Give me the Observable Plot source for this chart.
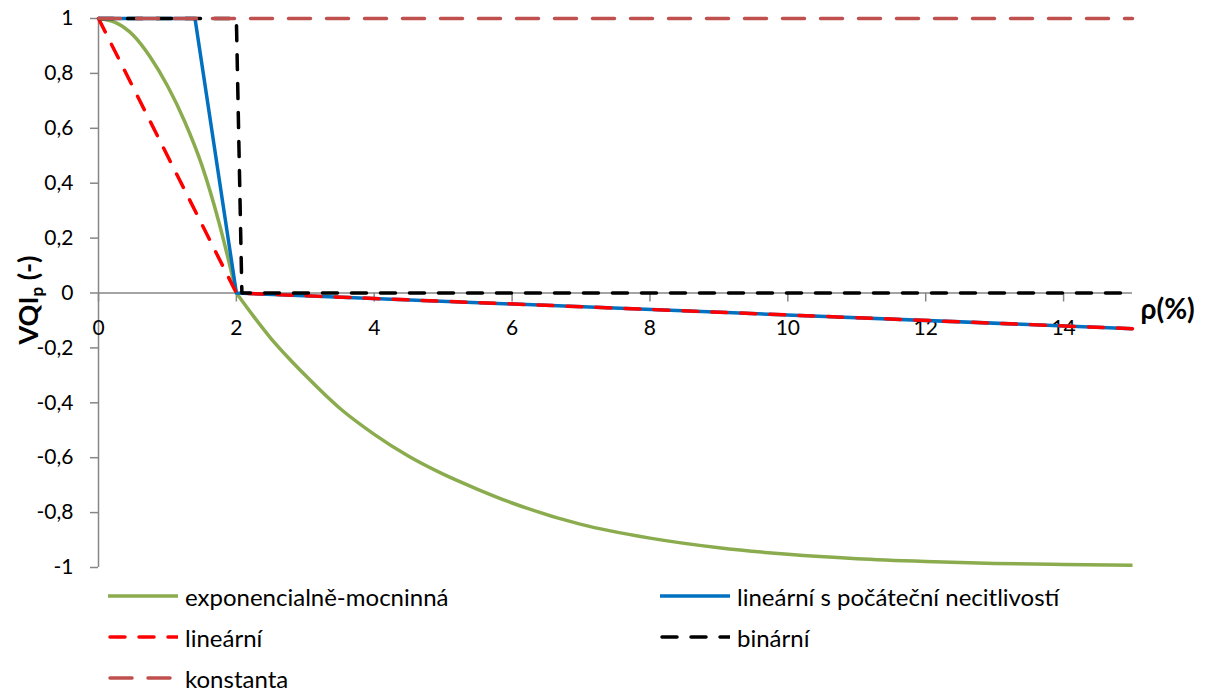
<!DOCTYPE html>
<html><head><meta charset="utf-8">
<script src="https://cdn.jsdelivr.net/npm/d3@7"></script>
<script src="https://cdn.jsdelivr.net/npm/@observablehq/plot@0.6"></script>
<style>
body{margin:0;background:#fff;font-family:Lato, "Open Sans", sans-serif;}
#wrap{position:relative;width:1212px;height:693px;overflow:hidden;}
.leg{position:absolute;display:flex;align-items:center;font-size:24px;color:#000;white-space:nowrap;}
.leg svg{margin-right:7px;}
.ytitle{position:absolute;left:27px;top:300px;transform:translate(-50%,-50%) rotate(-90deg);font-weight:bold;font-size:27px;white-space:nowrap;color:#000;}
.ytitle sub{font-size:17px;vertical-align:-5px;line-height:0;}
</style></head><body><div id="wrap"></div>
<script>
// ---- data ----
const xTicks = [0, 2, 4, 6, 8, 10, 12, 14];
const yTicks = [1, 0.8, 0.6, 0.4, 0.2, 0, -0.2, -0.4, -0.6, -0.8, -1];
const xTitle = "ρ(%)";
const yTitle = ["VQI", "p", " (-)"];

const seriesNames = ["exponencialně-mocninná", "lineární s počáteční necitlivostí", "lineární", "binární", "konstanta"];
const seriesColors = ["#8BAC4E", "#0070C0", "#FF0000", "#000000", "#C0504D"];
const seriesDash = [null, null, "15,14", "15,14", "22,16"];

const expX = [0, 0.25, 0.5, 0.75, 1.0, 1.25, 1.5, 1.75, 2.0, 2.25, 2.5, 2.75, 3, 3.5, 4, 4.5, 5, 5.5, 6, 7, 8, 9, 10, 11, 12, 13, 14, 15];
const expY = [1, 0.985, 0.94, 0.86, 0.755, 0.625, 0.465, 0.255, 0.0, -0.085, -0.165, -0.235, -0.30, -0.42, -0.515, -0.595, -0.66, -0.715, -0.765, -0.843, -0.893, -0.928, -0.952, -0.968, -0.978, -0.985, -0.989, -0.992];
const expBreak = 2; // the curve has a corner at ρ = 2
const linInsX = [0, 1.4, 2, 15];
const linInsY = [1, 1, 0, -0.13];
const linX = [0, 2, 15];
const linY = [1, 0, -0.13];
const binX = [0, 2, 2.08, 15];
const binY = [1, 1, 0, 0];
const constX = [0, 15];
const constY = [1, 1];

const seriesXs = [expX, linInsX, linX, binX, constX];
const seriesYs = [expY, linInsY, linY, binY, constY];

// ---- chart ----
const axisGray = "#868686";
const fmt = d => String(Math.round(d * 10) / 10).replace(".", ",");

const lineMarks = [];
seriesNames.forEach((name, s) => {
  const data = seriesXs[s].map((x, i) => ({x, y: seriesYs[s][i]}));
  const opts = {
    x: "x", y: "y",
    stroke: seriesColors[s],
    strokeWidth: 3.5,
    strokeDasharray: seriesDash[s] || undefined,
    strokeLinecap: seriesDash[s] ? "round" : "butt",
    strokeLinejoin: "round"
  };
  if (s === 0) {
    lineMarks.push(Plot.line(data.filter(d => d.x <= expBreak), {...opts, curve: "monotone-x"}));
    lineMarks.push(Plot.line(data.filter(d => d.x >= expBreak), {...opts, curve: "monotone-x"}));
  } else {
    lineMarks.push(Plot.line(data, {...opts, curve: "linear"}));
  }
});

const chart = Plot.plot({
  width: 1212,
  height: 580,
  marginLeft: 98,
  marginRight: 80,
  marginTop: 18,
  marginBottom: 13,
  style: {fontFamily: "Lato, 'Open Sans', sans-serif", fontSize: "21px", color: "#000", background: "#fff"},
  x: {domain: [0, 15], axis: null},
  y: {domain: [-1, 1]},
  marks: [
    Plot.ruleX([0], {stroke: axisGray, strokeWidth: 1.5}),
    Plot.ruleY([0], {stroke: axisGray, strokeWidth: 1.5}),
    Plot.axisY(yTicks, {tickSize: 8, tickPadding: 17, tickFormat: fmt, stroke: axisGray, strokeWidth: 1.5, fill: "#000", fontSize: 21, label: null}),
    Plot.ruleX(xTicks, {x: d => d, y1: 0, y2: 0, insetTop: 0, insetBottom: -9, stroke: axisGray, strokeWidth: 1.5}),
    Plot.text(xTicks, {x: d => d, y: 0, dy: 35, text: d => fmt(d), fill: "#000", fontSize: 21}),
    ...lineMarks,
    Plot.text([xTitle], {frameAnchor: "right", dx: 8, dy: 17, textAnchor: "start", fontWeight: "bold", fontSize: 28, fill: "#000", text: d => d})
  ]
});
chart.style.position = "absolute";
chart.style.left = "0px";
chart.style.top = "0px";
const wrap = document.getElementById("wrap");
wrap.appendChild(chart);

// y title with subscript
const yt = document.createElement("div");
yt.className = "ytitle";
yt.innerHTML = `${yTitle[0]}<sub>${yTitle[1]}</sub>${yTitle[2]}`;
wrap.appendChild(yt);

// ---- legend ----
const legPos = [[108, 596], [660, 596], [108, 637], [660, 637], [108, 678]];
seriesNames.forEach((name, s) => {
  const div = document.createElement("div");
  div.className = "leg";
  div.style.left = legPos[s][0] + "px";
  div.style.top = (legPos[s][1] - 16) + "px";
  div.style.height = "32px";
  const dash = seriesDash[s] ? `stroke-dasharray="${seriesDash[s]}" stroke-linecap="round"` : "";
  div.innerHTML = `<svg width="70" height="10"><line x1="${seriesDash[s] ? 2 : 0}" x2="70" y1="5" y2="5" stroke="${seriesColors[s]}" stroke-width="3.5" ${dash}/></svg><span>${name}</span>`;
  wrap.appendChild(div);
});
</script>
</body></html>
